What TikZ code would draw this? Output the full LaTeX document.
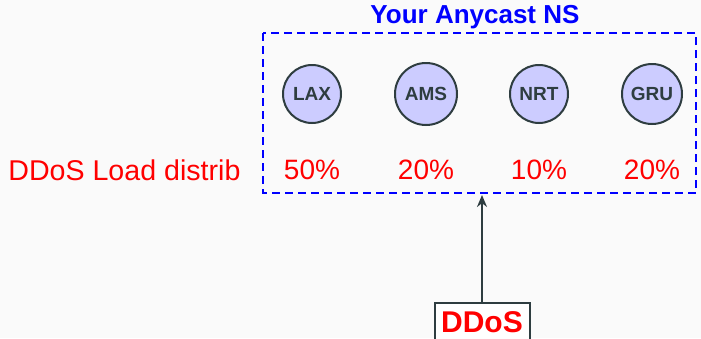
\documentclass[tikz,border=0pt]{standalone}
\usepackage{fontspec}
\setmainfont{Liberation Sans}
\usetikzlibrary{arrows.meta}
\definecolor{pagebg}{HTML}{FAFAFA}
\definecolor{popfill}{HTML}{CCCCFF}
\definecolor{edge}{HTML}{2E3D40}
\tikzset{
  pop/.style={circle,draw=edge,line width=1pt,fill=popfill,text=edge,
    font=\fontsize{9.5}{10}\selectfont\bfseries,minimum size=#1,inner sep=0pt},
  share/.style={text=red,font=\fontsize{14}{16}\selectfont},
}
\begin{document}
\begin{tikzpicture}[x=0.5pt,y=-0.5pt]
                    \fill[pagebg] (0,0) rectangle (701,338);
                    \useasboundingbox (0,0) rectangle (701,338);
                    \clip (0,0) rectangle (701,338);
                    \node[text=blue,font=\fontsize{13}{15}\selectfont\bfseries] (title) at (475,17) {Your Anycast NS};
                    \draw[blue,line width=1pt,dash pattern=on 4pt off 2.5pt] (263,33) rectangle (696,193);
                    \coordinate (boxbottom) at (482,195);
                    \node[pop=29pt] (lax) at (312,94) {LAX};
                    \node[pop=31pt] (ams) at (426,94) {AMS};
                    \node[pop=29pt] (nrt) at (539,94) {NRT};
                    \node[pop=30pt] (gru) at (652,94) {GRU};
                    \node[share] (plax) at (312,170) {50\%};
                    \node[share] (pams) at (426,170) {20\%};
                    \node[share] (pnrt) at (539,170) {10\%};
                    \node[share] (pgru) at (652,170) {20\%};
                    \node[share,font=\fontsize{14.3}{16}\selectfont,anchor=west,inner sep=0pt] (load) at (8,170) {DDoS Load distrib};
                    \node[draw=edge,line width=1pt,fill=white,text=red,
                      font=\fontsize{15}{17}\selectfont\bfseries,
                      text height=10.7pt,text depth=0pt,inner ysep=4pt,
                      minimum width=47.5pt,anchor=north] (ddos) at (482,302) {DDoS};
                    \draw[edge,line width=1pt,-{Stealth[length=6pt,width=5pt]}] (ddos.north) -- (boxbottom);
                \end{tikzpicture}
\end{document}
